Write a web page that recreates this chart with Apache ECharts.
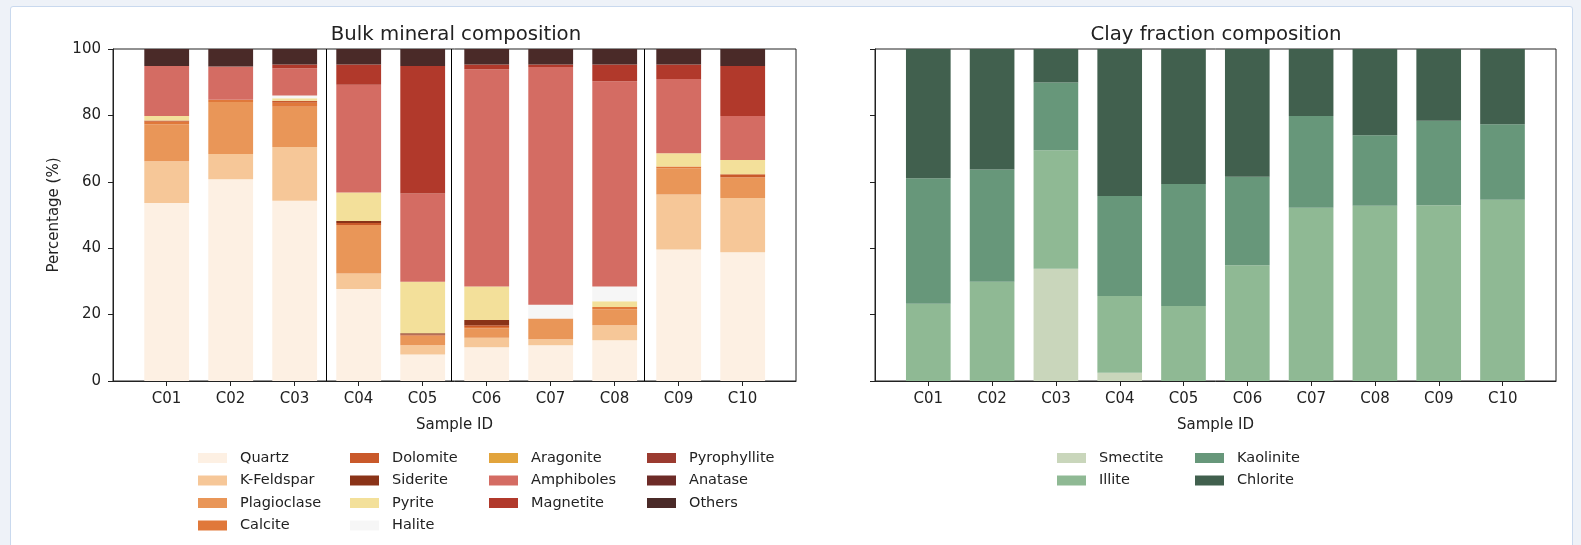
<!DOCTYPE html>
<html>
<head>
<meta charset="utf-8">
<script src="https://cdn.jsdelivr.net/npm/echarts@6/dist/echarts.min.js"></script>
<style>
html, body { margin: 0; padding: 0; width: 1581px; height: 545px; overflow: hidden; background: #eef2f8; }
#card { position: absolute; left: 10px; top: 6px; width: 1561px; height: 600px; background: #fff; border: 1px solid #c9d9ee; border-radius: 3px; }
#chart { position: absolute; left: 0; top: 0; width: 1581px; height: 545px; }
</style>
</head>
<body>
<div id="card"></div>
<div id="chart"></div>
<script>
// sample ids
var samples = ['C01', 'C02', 'C03', 'C04', 'C05', 'C06', 'C07', 'C08', 'C09', 'C10'];

// bulk mineralogy (%)
var quartz       = [53.6, 60.8, 54.3, 27.7, 8.0, 10.2, 10.8, 12.3, 39.6, 38.8];
var kFeldspar    = [12.6, 7.6, 16.2, 4.7, 2.8, 2.8, 1.8, 4.5, 16.6, 16.3];
var plagioclase  = [11.1, 15.6, 12.1, 14.6, 2.9, 2.8, 6.2, 4.8, 7.9, 6.3];
var calcite      = [0.8, 0.7, 1.2, 0, 0, 0.5, 0, 0.7, 0.5, 0];
var dolomite     = [0.4, 0, 0.6, 0.6, 0.3, 0.5, 0, 0, 0, 0.9];
var siderite     = [0, 0, 0, 0.6, 0.4, 1.6, 0, 0, 0, 0];
var pyrite       = [1.3, 0, 0.8, 8.6, 15.5, 10.1, 0, 1.7, 4.0, 4.3];
var halite       = [0, 0, 0.8, 0, 0, 0, 4.2, 4.5, 0, 0];
var aragonite    = [0, 0, 0, 0, 0, 0, 0, 0, 0, 0];
var amphiboles   = [15.1, 10.0, 8.2, 32.4, 26.6, 65.4, 71.6, 61.8, 22.4, 13.2];
var magnetite    = [0, 0, 1.1, 6.1, 38.4, 1.4, 0.7, 5.0, 4.3, 15.1];
var pyrophyllite = [0, 0, 0, 0, 0, 0, 0, 0, 0, 0];
var anatase      = [0, 0, 0, 0, 0, 0, 0, 0, 0, 0];
var others       = [5.1, 5.3, 4.7, 4.7, 5.1, 4.7, 4.7, 4.7, 4.7, 5.1];

// clay fraction (%)
var smectite  = [0, 0, 33.8, 2.5, 0, 0, 0, 0, 0, 0];
var illite    = [23.3, 29.9, 35.7, 23.1, 22.6, 34.9, 52.2, 52.8, 52.9, 54.6];
var kaolinite = [37.8, 33.8, 20.4, 30.1, 36.7, 26.6, 27.6, 21.2, 25.5, 22.7];
var chlorite  = [38.9, 36.3, 10.1, 44.3, 40.7, 38.5, 20.2, 26.0, 21.6, 22.7];

// group separators on the bulk panel (x in sample index units)
var separators = [2.5, 4.45, 7.47];

var bulkNames = ['Quartz', 'K-Feldspar', 'Plagioclase', 'Calcite', 'Dolomite', 'Siderite', 'Pyrite',
	'Halite', 'Aragonite', 'Amphiboles', 'Magnetite', 'Pyrophyllite', 'Anatase', 'Others'];
var bulkValues = [quartz, kFeldspar, plagioclase, calcite, dolomite, siderite, pyrite,
	halite, aragonite, amphiboles, magnetite, pyrophyllite, anatase, others];
var bulkColors = ['#fdf0e3', '#f6c798', '#e99658', '#e0783a', '#c9592a', '#8a3318', '#f3e09a',
	'#f6f6f6', '#e2a43c', '#d46c63', '#b1392b', '#9b3b30', '#6d2b27', '#4a2a28'];

var clayNames = ['Smectite', 'Illite', 'Kaolinite', 'Chlorite'];
var clayValues = [smectite, illite, kaolinite, chlorite];
var clayColors = ['#c9d6bb', '#8fb994', '#67977a', '#41604e'];

var txt = '#222';
var fnt = 'DejaVu Sans';
var tickIdx = [0, 1, 2, 3, 4, 5, 6, 7, 8, 9];

// grids 0/1 hold the bars (category axes), grids 2/3 are the framed axes with ticks
function makeSeries(names, values, colors, gi, stackName) {
	return names.map(function (n, k) {
		return {
			name: n,
			type: 'bar',
			stack: stackName,
			xAxisIndex: gi,
			yAxisIndex: gi,
			barWidth: '70%',
			itemStyle: { color: colors[k] },
			emphasis: { disabled: true },
			data: values[k]
		};
	});
}

function barXAxis(gi) {
	return { type: 'category', gridIndex: gi, data: samples, show: false };
}
function barYAxis(gi) {
	return { type: 'value', gridIndex: gi, min: 0, max: 100, show: false };
}

function frameXAxis(gi) {
	return {
		type: 'value', gridIndex: gi, min: -0.835, max: 9.835,
		name: 'Sample ID', nameLocation: 'middle', nameGap: 37,
		nameTextStyle: { fontSize: 15, color: txt, fontFamily: fnt },
		axisLine: { show: true, onZero: false, lineStyle: { color: '#222', width: 1 } },
		axisTick: { show: true, length: 5, lineStyle: { color: '#222' }, customValues: tickIdx },
		axisLabel: {
			fontSize: 15, color: txt, fontFamily: fnt, margin: 11,
			customValues: tickIdx,
			formatter: function (v) { return samples[Math.round(v)]; }
		},
		splitLine: { show: false }
	};
}

function frameYAxis(gi, showLabels) {
	var ax = {
		type: 'value', gridIndex: gi, min: 0, max: 100, interval: 20,
		axisLine: { show: true, onZero: false, lineStyle: { color: '#222', width: 1 } },
		axisTick: { show: true, length: 5, lineStyle: { color: '#222' } },
		axisLabel: { show: showLabels, fontSize: 15, color: txt, fontFamily: fnt, margin: 12 },
		splitLine: { show: false }
	};
	if (showLabels) {
		ax.name = 'Percentage (%)';
		ax.nameLocation = 'middle';
		ax.nameGap = 51;
		ax.nameTextStyle = { fontSize: 15, color: txt, fontFamily: fnt };
	}
	return ax;
}

function legendCol(names, left) {
	return {
		orient: 'vertical', left: left, top: 445, icon: 'rect',
		itemWidth: 29, itemHeight: 10, itemGap: 6.5,
		selectedMode: false,
		textStyle: { fontSize: 14.5, color: txt, fontFamily: fnt, lineHeight: 16, padding: [0, 0, 0, 8] },
		data: names
	};
}

var series = makeSeries(bulkNames, bulkValues, bulkColors, 0, 'bulk')
	.concat(makeSeries(clayNames, clayValues, clayColors, 1, 'clay'));

// separator lines live on the framed bulk axes
series.push({
	name: 'sep', type: 'line', xAxisIndex: 2, yAxisIndex: 2, data: [], silent: true,
	markLine: {
		silent: true, symbol: 'none', animation: false,
		label: { show: false },
		lineStyle: { color: '#000', width: 1, type: 'solid' },
		data: separators.map(function (x) { return { xAxis: x }; })
	}
});

var myChart = echarts.init(document.getElementById('chart'), null, { renderer: 'canvas' });
var option = {
	animation: false,
	backgroundColor: 'transparent',
	textStyle: { fontFamily: fnt },
	title: [
		{ text: 'Bulk mineral composition', left: 451, top: 20, textAlign: 'center',
			textStyle: { fontSize: 19.7, fontWeight: 'normal', color: txt, fontFamily: fnt } },
		{ text: 'Clay fraction composition', left: 1211, top: 20, textAlign: 'center',
			textStyle: { fontSize: 19.7, fontWeight: 'normal', color: txt, fontFamily: fnt } }
	],
	legend: [
		legendCol(bulkNames.slice(0, 4), 193),
		legendCol(bulkNames.slice(4, 8), 345),
		legendCol(bulkNames.slice(8, 11), 484),
		legendCol(bulkNames.slice(11, 14), 642),
		legendCol(clayNames.slice(0, 2), 1052),
		legendCol(clayNames.slice(2, 4), 1190)
	],
	grid: [
		{ left: 134.7, top: 49, width: 640, height: 332 },
		{ left: 896.4, top: 49, width: 638, height: 332 },
		{ left: 113, top: 49, width: 683, height: 332, show: true, borderColor: '#222', borderWidth: 1 },
		{ left: 875, top: 49, width: 681, height: 332, show: true, borderColor: '#222', borderWidth: 1 }
	],
	xAxis: [barXAxis(0), barXAxis(1), frameXAxis(2), frameXAxis(3)],
	yAxis: [barYAxis(0), barYAxis(1), frameYAxis(2, true), frameYAxis(3, false)],
	series: series
};
myChart.setOption(option);
</script>
</body>
</html>
